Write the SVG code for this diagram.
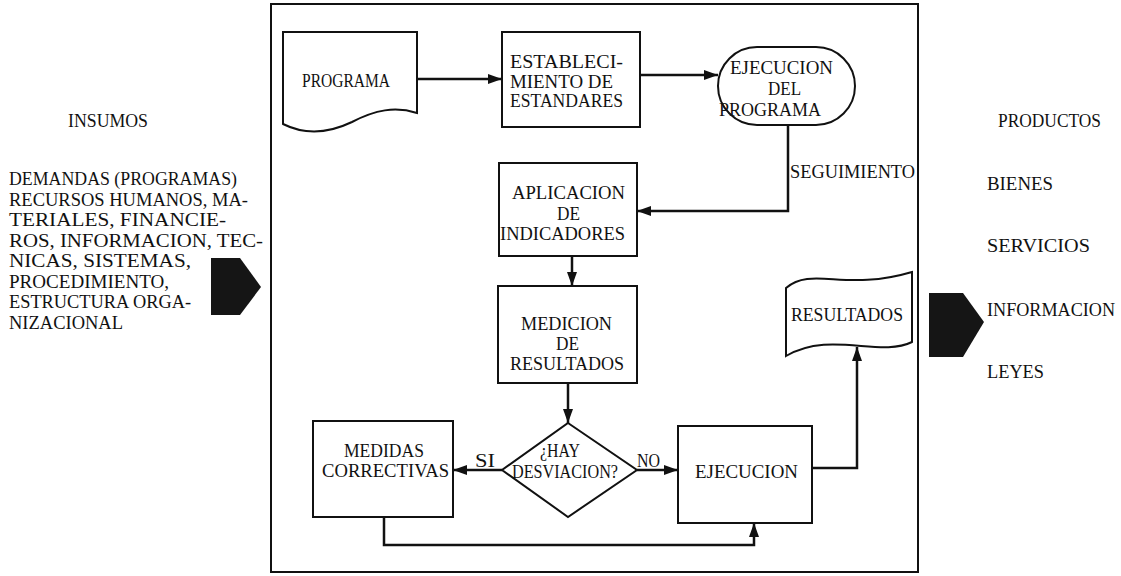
<svg xmlns="http://www.w3.org/2000/svg" width="1121" height="576" viewBox="0 0 1121 576">
<style>
text{font-family:"Liberation Serif","Times New Roman",serif;font-size:19px;fill:#111}
.n{fill:#fff;stroke:#111;stroke-width:2}
.c{fill:none;stroke:#111;stroke-width:2.5;marker-end:url(#ah)}
</style>
<defs>
<marker id="ah" viewBox="0 0 14 10" refX="14" refY="5" markerWidth="14" markerHeight="10" markerUnits="userSpaceOnUse" orient="auto"><path d="M0,0 L14,5 L0,10 Z" fill="#111"/></marker>
</defs>
<rect x="0" y="0" width="1121" height="576" fill="#fff"/>
<rect id="frame" x="271" y="4" width="647" height="568" fill="none" stroke="#111" stroke-width="2"/>
<g id="insumos">
<text x="68" y="127" textLength="80" lengthAdjust="spacingAndGlyphs">INSUMOS</text>
<text x="9" y="185" textLength="228" lengthAdjust="spacingAndGlyphs">DEMANDAS (PROGRAMAS)</text>
<text x="9" y="205.5" textLength="239" lengthAdjust="spacingAndGlyphs">RECURSOS HUMANOS, MA-</text>
<text x="9" y="226" textLength="217" lengthAdjust="spacingAndGlyphs">TERIALES, FINANCIE-</text>
<text x="9" y="246.5" textLength="254" lengthAdjust="spacingAndGlyphs">ROS, INFORMACION, TEC-</text>
<text x="9" y="267" textLength="182" lengthAdjust="spacingAndGlyphs">NICAS, SISTEMAS,</text>
<text x="9" y="287.5" textLength="160" lengthAdjust="spacingAndGlyphs">PROCEDIMIENTO,</text>
<text x="9" y="308" textLength="182" lengthAdjust="spacingAndGlyphs">ESTRUCTURA ORGA-</text>
<text x="9" y="328.5" textLength="114" lengthAdjust="spacingAndGlyphs">NIZACIONAL</text>
<path d="M211,258 H240 L261,287 L240,315 H211 Z" fill="#151515"/>
</g>
<g id="productos">
<text x="998" y="127" textLength="103" lengthAdjust="spacingAndGlyphs">PRODUCTOS</text>
<text x="987" y="190" textLength="66" lengthAdjust="spacingAndGlyphs">BIENES</text>
<text x="987" y="252" textLength="103" lengthAdjust="spacingAndGlyphs">SERVICIOS</text>
<text x="987" y="316" textLength="128" lengthAdjust="spacingAndGlyphs">INFORMACION</text>
<text x="987" y="378" textLength="57" lengthAdjust="spacingAndGlyphs">LEYES</text>
<path d="M929,293 H963 L984,322 L963,357 H929 Z" fill="#151515"/>
</g>
<g id="connectors">
<path class="c" d="M417,79 H502"/>
<path class="c" d="M640,75 H718"/>
<path class="c" d="M788,125 V211 H637"/>
<path class="c" d="M572,256 V286"/>
<path class="c" d="M568,383 V423"/>
<path class="c" d="M502,470 H453"/>
<path class="c" d="M637,470 H678"/>
<path class="c" d="M384,517 V545 H754 V523"/>
<path class="c" d="M812,468 H857 V347"/>
<text x="790" y="178" textLength="125" lengthAdjust="spacingAndGlyphs">SEGUIMIENTO</text>
<text x="475" y="467" textLength="20" lengthAdjust="spacingAndGlyphs">SI</text>
<text x="637" y="467" textLength="23" lengthAdjust="spacingAndGlyphs">NO</text>
</g>
<g id="programa">
<path class="n" d="M283,32 H417 V113 C395,106 375,110 352,122 C327,134 303,134 283,124 Z"/>
<text x="302" y="87" textLength="88" lengthAdjust="spacingAndGlyphs">PROGRAMA</text>
</g>
<g id="establecimiento">
<rect class="n" x="502" y="32" width="138" height="95"/>
<text x="510" y="68" textLength="113" lengthAdjust="spacingAndGlyphs">ESTABLECI-</text>
<text x="510" y="88" textLength="103" lengthAdjust="spacingAndGlyphs">MIENTO DE</text>
<text x="510" y="107" textLength="113" lengthAdjust="spacingAndGlyphs">ESTANDARES</text>
</g>
<g id="ejecucion-programa">
<rect class="n" x="718" y="47" width="137" height="78" rx="39" ry="39"/>
<text x="730" y="74" textLength="103" lengthAdjust="spacingAndGlyphs">EJECUCION</text>
<text x="768" y="95" textLength="33" lengthAdjust="spacingAndGlyphs">DEL</text>
<text x="719" y="116" textLength="102" lengthAdjust="spacingAndGlyphs">PROGRAMA</text>
</g>
<g id="aplicacion">
<rect class="n" x="499" y="163" width="138" height="93"/>
<text x="512" y="199" textLength="113" lengthAdjust="spacingAndGlyphs">APLICACION</text>
<text x="557" y="220" textLength="23" lengthAdjust="spacingAndGlyphs">DE</text>
<text x="500" y="240" textLength="125" lengthAdjust="spacingAndGlyphs">INDICADORES</text>
</g>
<g id="medicion">
<rect class="n" x="498" y="286" width="139" height="97"/>
<text x="521" y="330" textLength="91" lengthAdjust="spacingAndGlyphs">MEDICION</text>
<text x="556" y="350" textLength="23" lengthAdjust="spacingAndGlyphs">DE</text>
<text x="510" y="370" textLength="114" lengthAdjust="spacingAndGlyphs">RESULTADOS</text>
</g>
<g id="decision">
<path class="n" d="M568,423 L637,470 L568,517 L502,470 Z"/>
<text x="540" y="457" textLength="40" lengthAdjust="spacingAndGlyphs">¿HAY</text>
<text x="512" y="478" textLength="106" lengthAdjust="spacingAndGlyphs">DESVIACION?</text>
</g>
<g id="medidas">
<rect class="n" x="313" y="421" width="140" height="96"/>
<text x="344" y="457" textLength="80" lengthAdjust="spacingAndGlyphs">MEDIDAS</text>
<text x="322" y="477" textLength="127" lengthAdjust="spacingAndGlyphs">CORRECTIVAS</text>
</g>
<g id="ejecucion">
<rect class="n" x="678" y="426" width="134" height="97"/>
<text x="695" y="478" textLength="103" lengthAdjust="spacingAndGlyphs">EJECUCION</text>
</g>
<g id="resultados">
<path class="n" d="M786,288 C812,266 845,292 912,272 L912,342 C880,358 830,330 786,356 Z"/>
<text x="791" y="321" textLength="112" lengthAdjust="spacingAndGlyphs">RESULTADOS</text>
</g>
</svg>
